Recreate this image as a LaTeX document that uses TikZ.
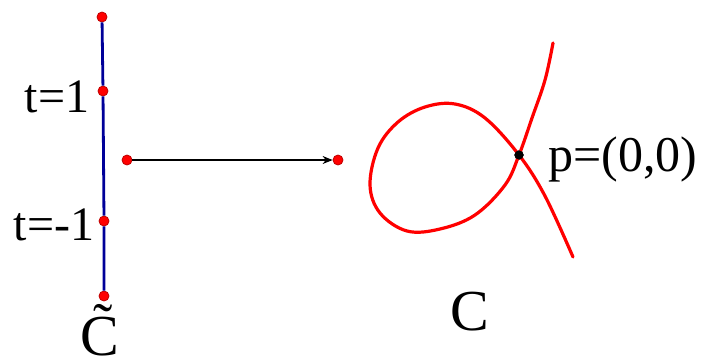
\documentclass[tikz,border=0pt]{standalone}
\usepackage{fontspec}
\setmainfont{Liberation Serif}
\usetikzlibrary{arrows.meta,positioning}

\begin{document}
\begin{tikzpicture}[x=0.5pt,y=-0.5pt,
    reddot/.style={circle,fill=red,draw=red!75!black,line width=0.4pt,inner sep=0pt,minimum size=5pt},
    blackdot/.style={circle,fill=black,inner sep=0pt,minimum size=4.6pt},
    lbl/.style={inner sep=0pt,font=\fontsize{24}{28}\selectfont}
  ]
    \useasboundingbox (0,0) rectangle (705,360);
    % parameter line
    \node[reddot] (top) at (102,17) {};
    \node[reddot] (t1) at (103,91) {};
    \node[reddot] (tm1) at (104,221) {};
    \node[reddot] (bot) at (104,296) {};
    \draw[blue!60!black,line width=1.4pt] (top) -- (t1) -- (tm1) -- (bot);
    \node[lbl,left=4pt of t1,yshift=-3pt] (lt1) {t=1};
    \node[lbl,left=2pt of tm1,yshift=-2pt] (ltm1) {t=-1};
    \node[lbl,font=\fontsize{29}{32}\selectfont,anchor=base] (ct) at (100,355) {\~{C}};
    % the map
    \node[reddot] (src) at (127,160) {};
    \node[reddot] (dst) at (338,160) {};
    \draw[-{Stealth[length=5pt,width=4pt]},line width=0.6pt] (src) -- (dst);
    % nodal curve
    \node[blackdot] (p) at (519,155) {};
    \draw[red,line width=1.6pt,line cap=round] plot[smooth,tension=0.6] coordinates {
      (553,43) (545,80) (532,118) (p) (505,185) (475,215) (440,229) (407,231)
      (380,213) (370,185) (378,148) (398,122) (425,107) (455,104) (485,118)
      (p) (545,196) (573,257)};
    \node[blackdot] at (p) {};
    \node[lbl,font=\fontsize{25}{28}\selectfont,right=12pt of p,yshift=-2pt] (lp) {p=(0,0)};
    \node[lbl,font=\fontsize{29}{32}\selectfont] (lc) at (470,312) {C};
  \end{tikzpicture}
\end{document}
